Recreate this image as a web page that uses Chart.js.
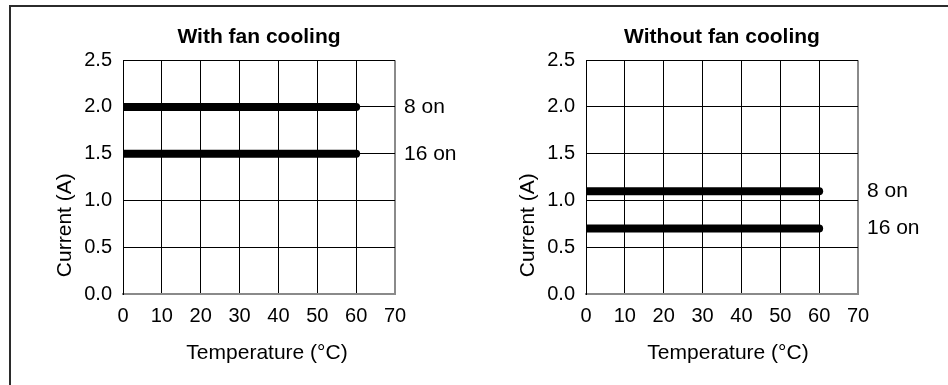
<!DOCTYPE html>
<html>
<head>
<meta charset="utf-8">
<script src="https://cdn.jsdelivr.net/npm/chart.js@4.4.1/dist/chart.umd.min.js"></script>
<style>
  html, body { margin: 0; padding: 0; background: #fff; }
  body { width: 948px; height: 385px; position: relative; overflow: hidden; }
  .frame {
    position: absolute; left: 9px; top: 5px; width: 960px; height: 420px;
    border: 2px solid #2b2b2b; box-sizing: border-box;
  }
  .panel { position: absolute; top: 0; width: 474px; height: 385px; }
</style>
</head>
<body>
<div class="frame"></div>
<div class="panel" style="left:0"><canvas id="fanChart"></canvas></div>
<div class="panel" style="left:474px"><canvas id="noFanChart"></canvas></div>

<script>
// temperature range covered by each curve (°C)
const temps = [0, 60];
const seriesNames = ['8 on', '16 on'];

// current limit (A) with fan cooling
const fan8on = [2.0, 2.0];
const fan16on = [1.5, 1.5];

// current limit (A) without fan cooling
const noFan8on = [1.1, 1.1];
const noFan16on = [0.7, 0.7];

const FONT = '"Liberation Sans", Arial, Helvetica, sans-serif';
const GRID = '#000';
const EDGE = '#8a8a8a';

// series names at the right of the plot, plus the axis titles
const sideText = {
  id: 'sideText',
  afterDatasetsDraw(chart, args, opts) {
    const { ctx, chartArea, scales } = chart;
    ctx.save();
    ctx.fillStyle = '#000';
    ctx.font = '21px ' + FONT;
    ctx.textBaseline = 'middle';
    ctx.textAlign = 'left';
    chart.data.datasets.forEach(ds => {
      const last = ds.data[ds.data.length - 1];
      ctx.fillText(ds.label, chartArea.right + 9, scales.y.getPixelForValue(last.y));
    });
    ctx.textAlign = 'center';
    ctx.fillText(opts.xTitle, (chartArea.left + chartArea.right) / 2 + opts.xShift, chartArea.bottom + 59);
    ctx.translate(chartArea.left - 58, chartArea.top + 165);
    ctx.rotate(-Math.PI / 2);
    ctx.fillText(opts.yTitle, 0, 0);
    ctx.restore();
  }
};

function toPoints(ys) {
  return temps.map((t, i) => ({ x: t, y: ys[i] }));
}

function makeChart(id, title, series, padRight, yWidth, xShift) {
  new Chart(document.getElementById(id), {
    type: 'line',
    data: {
      datasets: series.map((ys, i) => ({
        label: seriesNames[i],
        data: toPoints(ys),
        borderColor: '#000',
        borderWidth: 8,
        borderCapStyle: 'round',
        pointRadius: 0,
        clip: { left: 0, top: 10, right: 10, bottom: 10 }
      }))
    },
    options: {
      responsive: true,
      maintainAspectRatio: false,
      animation: false,
      layout: { padding: { left: 0, top: 0, right: padRight, bottom: 0 } },
      plugins: {
        legend: { display: false },
        tooltip: { enabled: false },
        title: {
          display: true,
          fullSize: false,
          text: title,
          color: '#000',
          font: { family: FONT, size: 21, weight: 'bold' },
          padding: { top: 25, bottom: 10 }
        },
        sideText: { xTitle: 'Temperature (°C)', yTitle: 'Current (A)', xShift: xShift }
      },
      scales: {
        x: {
          type: 'linear',
          min: 0,
          max: 70,
          afterFit: s => { s.height = 91; },
          ticks: { stepSize: 10, padding: 10, color: '#000', font: { family: FONT, size: 20 } },
          grid: {
            drawTicks: false,
            color: c => (c.tick && c.tick.value === 70 ? EDGE : GRID),
            lineWidth: c => (c.tick && c.tick.value === 70 ? 2 : 1)
          },
          border: { color: EDGE, width: 2 }
        },
        y: {
          min: 0,
          max: 2.5,
          afterFit: s => { s.width = yWidth; },
          ticks: {
            stepSize: 0.5,
            padding: 11,
            color: '#000',
            font: { family: FONT, size: 20 },
            callback: v => v.toFixed(1)
          },
          grid: {
            drawTicks: false,
            color: c => (c.tick && c.tick.value === 0 ? EDGE : GRID)
          },
          border: { color: GRID, width: 1 }
        }
      }
    },
    plugins: [sideText]
  });
}

makeChart('fanChart', 'With fan cooling', [fan8on, fan16on], 79, 123, 8);
makeChart('noFanChart', 'Without fan cooling', [noFan8on, noFan16on], 90, 112, 6);
</script>
</body>
</html>
